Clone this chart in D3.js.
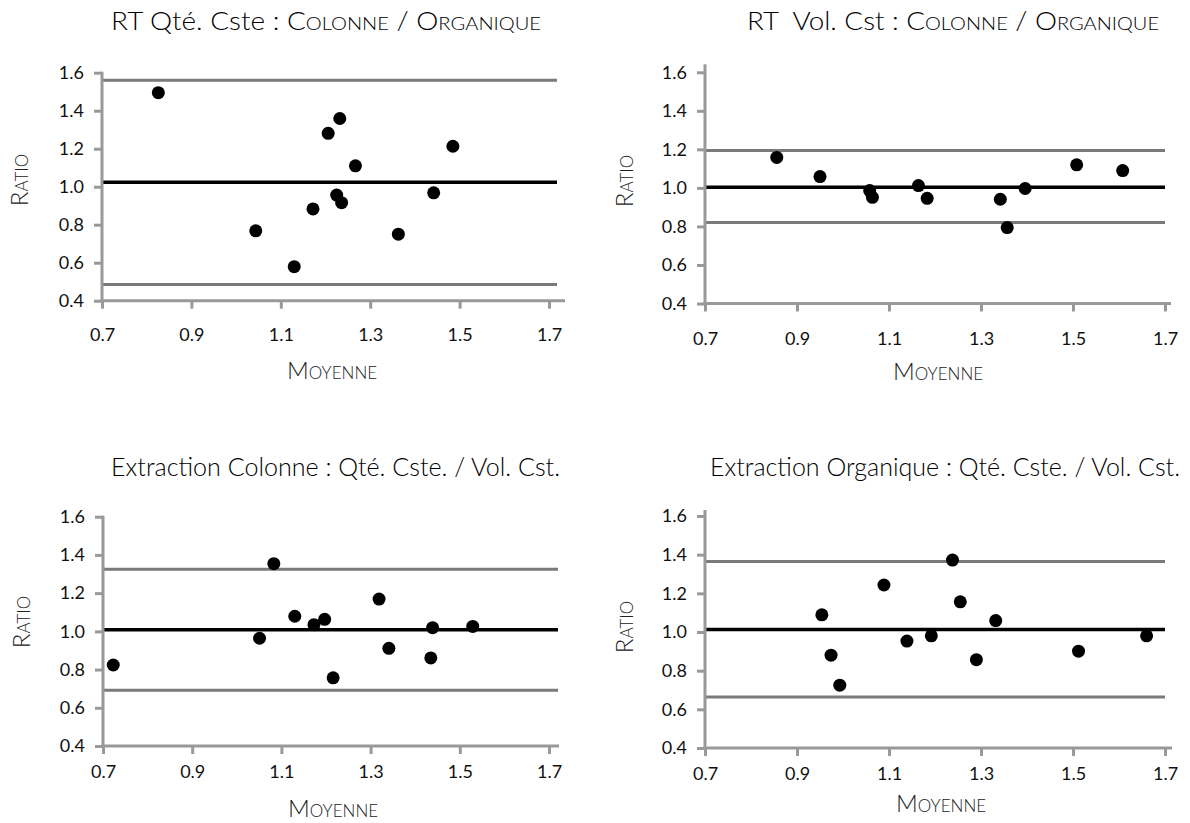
<!DOCTYPE html>
<html>
<head>
<meta charset="utf-8">
<script src="https://cdn.jsdelivr.net/npm/d3@7"></script>
<style>
  html, body { margin: 0; padding: 0; background: #fff; }
  svg { display: block; font-family: Lato, "Open Sans", sans-serif; }
  .sc { font-variant: small-caps; }
</style>
</head>
<body>
<svg id="chart" width="1190" height="823"></svg>
<script>
// ---- data ----
const xTicks = [0.7, 0.9, 1.1, 1.3, 1.5, 1.7];
const yTicks = [0.4, 0.6, 0.8, 1.0, 1.2, 1.4, 1.6];

const titles = [
  ["RT Qté. Cste : ", "Colonne / Organique"],
  ["RT  Vol. Cst : ", "Colonne / Organique"],
  ["Extraction Colonne : Qté. Cste. / Vol. Cst.", ""],
  ["Extraction Organique : Qté. Cste. / Vol. Cst.", ""]
];
const xLabel = "Moyenne";
const yLabel = "Ratio";

// panel 1 : RT Qté. Cste
const p1Moy   = [0.826, 1.044, 1.130, 1.172, 1.206, 1.232, 1.225, 1.236, 1.267, 1.363, 1.442, 1.485];
const p1Ratio = [1.495, 0.768, 0.579, 0.883, 1.281, 1.359, 0.956, 0.916, 1.110, 0.750, 0.968, 1.213];
const p1Lines = [1.56, 1.024, 0.485]; // upper, mean, lower

// panel 2 : RT Vol. Cst
const p2Moy   = [0.856, 0.950, 1.058, 1.064, 1.164, 1.183, 1.342, 1.357, 1.396, 1.508, 1.608];
const p2Ratio = [1.158, 1.059, 0.986, 0.951, 1.012, 0.946, 0.941, 0.794, 0.997, 1.120, 1.090];
const p2Lines = [1.194, 1.003, 0.820];

// panel 3 : Extraction Colonne
const p3Moy   = [0.723, 1.051, 1.083, 1.130, 1.173, 1.197, 1.216, 1.319, 1.341, 1.439, 1.435, 1.529];
const p3Ratio = [0.824, 0.964, 1.354, 1.079, 1.035, 1.063, 0.757, 1.169, 0.911, 1.019, 0.861, 1.026];
const p3Lines = [1.325, 1.008, 0.692];

// panel 4 : Extraction Organique
const p4Moy   = [0.954, 0.974, 0.993, 1.089, 1.139, 1.192, 1.238, 1.255, 1.290, 1.332, 1.512, 1.660];
const p4Ratio = [1.089, 0.880, 0.725, 1.243, 0.953, 0.980, 1.372, 1.156, 0.857, 1.059, 0.901, 0.980];
const p4Lines = [1.365, 1.013, 0.664];

// ---- layout (positions only) ----
const layout = [
  {x0:102, x1:549, yT:72.7, yB:300.7, axExt:16, lnExt:8, yExt:1, xLab:34, tl:111, tr:541, ty:30, rx:20, ry:180, mx:332, my:379},
  {x0:705, x1:1165, yT:72.3, yB:303.5, axExt:6, lnExt:0, yExt:8, xLab:35, tl:747, tr:1159, ty:30, rx:625, ry:181, mx:938, my:380},
  {x0:103, x1:549, yT:516.7, yB:746, axExt:10, lnExt:9, yExt:1, xLab:26, tl:111, tr:560, ty:476, rx:22, ry:622, mx:333, my:817},
  {x0:705, x1:1165, yT:516, yB:748, axExt:7, lnExt:0, yExt:6, xLab:26, tl:710, tr:1180, ty:476, rx:625, ry:627, mx:941, my:812}
];
const panels = [
  {xs:p1Moy, ys:p1Ratio, lines:p1Lines},
  {xs:p2Moy, ys:p2Ratio, lines:p2Lines},
  {xs:p3Moy, ys:p3Ratio, lines:p3Lines},
  {xs:p4Moy, ys:p4Ratio, lines:p4Lines}
];

const axisColor = "#999999";
const refColor = "#7a7a7a";
const svg = d3.select("#chart");

panels.forEach((p, i) => {
  const L = layout[i];
  const x = d3.scaleLinear().domain([0.7, 1.7]).range([L.x0, L.x1]);
  const y = d3.scaleLinear().domain([0.4, 1.6]).range([L.yB, L.yT]);
  const g = svg.append("g");

  // title
  const t = g.append("text")
    .attr("x", L.tl).attr("y", L.ty)
    .attr("font-size", 25).attr("font-weight", 300).attr("fill", "#000")
    .attr("textLength", L.tr - L.tl).attr("lengthAdjust", "spacingAndGlyphs")
    .style("white-space", "pre");
  t.append("tspan").text(titles[i][0]);
  if (titles[i][1]) t.append("tspan").attr("class", "sc").text(titles[i][1]);

  // reference lines (upper, mean, lower)
  p.lines.forEach((v, k) => {
    g.append("line")
      .attr("x1", x(0.7)).attr("x2", x(1.7) + L.lnExt)
      .attr("y1", y(v)).attr("y2", y(v))
      .attr("stroke", k === 1 ? "#000" : refColor)
      .attr("stroke-width", k === 1 ? 3.5 : 3);
  });

  // y axis
  const ya = g.append("g").attr("transform", `translate(${x(0.7)},0)`)
    .call(d3.axisLeft(y).tickValues(yTicks).tickFormat(d3.format(".1f")).tickSize(8).tickSizeOuter(0).tickPadding(10));
  ya.select(".domain").remove();
  ya.selectAll(".tick line").attr("stroke", axisColor).attr("stroke-width", 3);
  ya.selectAll(".tick text").attr("font-size", 18).attr("font-weight", 400).attr("fill", "#111")
    .attr("font-family", "Lato, sans-serif");

  // x axis
  const xa = g.append("g").attr("transform", `translate(0,${y(0.4)})`)
    .call(d3.axisBottom(x).tickValues(xTicks).tickFormat(d3.format(".1f")).tickSize(8).tickSizeOuter(0));
  xa.select(".domain").remove();
  xa.selectAll(".tick line").attr("stroke", axisColor).attr("stroke-width", 3);
  xa.selectAll(".tick text").attr("font-size", 18).attr("font-weight", 400).attr("fill", "#111")
    .attr("font-family", "Lato, sans-serif")
    .attr("y", L.xLab).attr("dy", "0.35em");

  // axis lines
  g.append("line")
    .attr("x1", x(0.7)).attr("x2", x(0.7))
    .attr("y1", y(0.4) + 1.5).attr("y2", y(1.6) - L.yExt)
    .attr("stroke", axisColor).attr("stroke-width", 3);
  g.append("line")
    .attr("x1", x(0.7) - 1.5).attr("x2", x(1.7) + L.axExt)
    .attr("y1", y(0.4)).attr("y2", y(0.4))
    .attr("stroke", axisColor).attr("stroke-width", 3);

  // axis titles
  g.append("text").attr("class", "sc")
    .attr("transform", `translate(${L.rx},${L.ry}) rotate(-90)`)
    .attr("text-anchor", "middle").attr("dy", "0.35em")
    .attr("font-size", 24).attr("font-weight", 300).attr("fill", "#222")
    .text(yLabel);
  g.append("text").attr("class", "sc")
    .attr("x", L.mx).attr("y", L.my)
    .attr("text-anchor", "middle")
    .attr("font-size", 24).attr("font-weight", 300).attr("fill", "#222")
    .text(xLabel);

  // points
  g.selectAll("circle").data(d3.range(p.xs.length)).join("circle")
    .attr("cx", j => x(p.xs[j])).attr("cy", j => y(p.ys[j]))
    .attr("r", 6.5).attr("fill", "#000");
});
</script>
</body>
</html>
